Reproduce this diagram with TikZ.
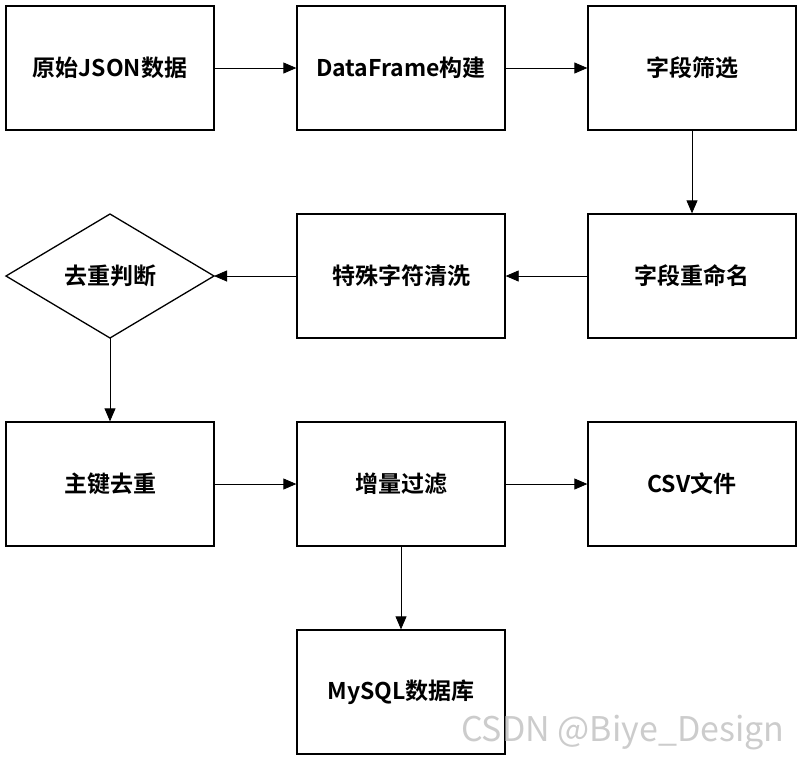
\documentclass[tikz,border=0pt]{standalone}
\usepackage{fontspec}
\setmainfont{Noto Sans CJK SC}[BoldFont={Noto Sans CJK SC Bold}]
\usetikzlibrary{shapes.geometric,arrows.meta}
\begin{document}
\begin{tikzpicture}[x=1pt,y=-1pt,
  lbl/.style={font=\fontsize{23}{27}\selectfont\bfseries},
  box/.style={draw,line width=1.3pt,minimum width=208pt,minimum height=124pt,inner sep=0,lbl},
  arr/.style={draw,line width=0.8pt,-{Triangle[length=13pt,width=11pt]}}]
\useasboundingbox (0,0) rectangle (802,761);
\node[box] (a) at (110,68) {原始JSON数据};
\node[box] (b) at (401,68) {DataFrame构建};
\node[box] (c) at (692,68) {字段筛选};
\node[box] (f) at (692,276) {字段重命名};
\node[box] (e) at (401,276) {特殊字符清洗};
\path[draw,line width=1.3pt] (6,276) -- (110,214) -- (214,276) -- (110,338) -- cycle;
\node[lbl] (dt) at (110,276) {去重判断};
\coordinate (dR) at (214,276); \coordinate (dB) at (110,338);
\node[box] (g) at (110,484) {主键去重};
\node[box] (h) at (401,484) {增量过滤};
\node[box] (i) at (692,484) {CSV文件};
\node[box] (j) at (401,692) {MySQL数据库};
\draw[arr] (a) -- (b);
\draw[arr] (b) -- (c);
\draw[arr] (c) -- (f);
\draw[arr] (f) -- (e);
\draw[arr] (e) -- (dR);
\draw[arr] (dB) -- (g);
\draw[arr] (g) -- (h);
\draw[arr] (h) -- (i);
\draw[arr] (h) -- (j);
\node[text=gray!40,font=\fontsize{34}{38}\selectfont,anchor=east] (w) at (788,733) {CSDN @Biye\_Design};
\end{tikzpicture}
\end{document}
